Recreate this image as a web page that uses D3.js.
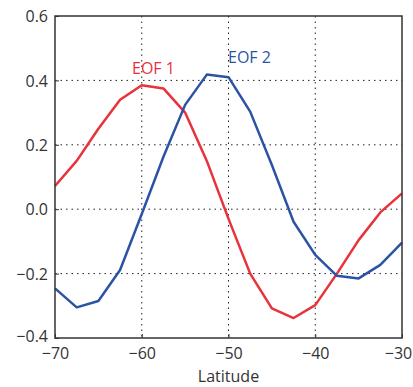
<!DOCTYPE html>
<html><head><meta charset="utf-8">
<script src="https://cdn.jsdelivr.net/npm/d3@7"></script>
<style>body{margin:0;background:#fff}</style>
</head><body>
<svg id="c" width="413" height="387"></svg>
<script>
const latitudes = [-70,-67.5,-65,-62.5,-60,-57.5,-55,-52.5,-50,-47.5,-45,-42.5,-40,-37.5,-35,-32.5,-30];
const eof1 = [0.072,0.15,0.25,0.34,0.385,0.375,0.30,0.15,-0.03,-0.20,-0.308,-0.338,-0.298,-0.20,-0.096,-0.01,0.049];
const eof2 = [-0.246,-0.305,-0.285,-0.189,-0.015,0.163,0.324,0.418,0.41,0.303,0.137,-0.039,-0.142,-0.207,-0.215,-0.173,-0.104];
const xTicks = [-70,-60,-50,-40,-30];
const yTicks = [-0.4,-0.2,0,0.2,0.4,0.6];
const seriesNames = ["EOF 1","EOF 2"];

const svg = d3.select("#c");
const L=55,R=402,T=16,B=338;
const x = d3.scaleLinear().domain([-70,-30]).range([L,R]);
const y = d3.scaleLinear().domain([-0.4,0.6]).range([B,T]);
const font = "'Open Sans', 'DejaVu Sans', sans-serif";

// grid
const g = svg.append("g");
g.selectAll(".gx").data(xTicks.slice(1,-1)).enter().append("line")
 .attr("x1",d=>x(d)).attr("x2",d=>x(d)).attr("y1",T).attr("y2",B)
 .attr("stroke","#222").attr("stroke-width",1).attr("stroke-dasharray","1.5,4");
g.selectAll(".gy").data(yTicks.slice(1,-1)).enter().append("line")
 .attr("y1",d=>y(d)).attr("y2",d=>y(d)).attr("x1",L).attr("x2",R)
 .attr("stroke","#222").attr("stroke-width",1).attr("stroke-dasharray","1.5,4");

// lines
const line = d3.line().x((d,i)=>x(latitudes[i])).y(d=>y(d));
svg.append("path").datum(eof1).attr("d",line).attr("fill","none")
 .attr("stroke","#e8323c").attr("stroke-width",2.5).attr("stroke-linejoin","round");
svg.append("path").datum(eof2).attr("d",line).attr("fill","none")
 .attr("stroke","#2c53a3").attr("stroke-width",2.5).attr("stroke-linejoin","round");

// axes
const xAxis = d3.axisBottom(x).tickValues(xTicks).tickSize(-4).tickPadding(10)
 .tickFormat(d=>String(d).replace("-","\u2212"));
const yAxis = d3.axisLeft(y).tickValues(yTicks).tickSize(-4).tickPadding(7)
 .tickFormat(d=>d3.format(".1f")(d).replace("-","\u2212"));
const ax = svg.append("g").attr("transform",`translate(0,${B})`).call(xAxis);
const ay = svg.append("g").attr("transform",`translate(${L},0)`).call(yAxis);
[ax,ay].forEach(a=>{
  a.select(".domain").remove();
  a.selectAll("line").attr("stroke","#333");
  a.selectAll("text").attr("font-family",font).attr("font-size",16).attr("fill","#333");
});
ay.selectAll("text").attr("dy","0.35em");
ay.selectAll("text").filter(d=>d===-0.4).attr("dy","0.2em");
ax.selectAll("text").filter(d=>d===-30).attr("dx",-4);
// frame
svg.append("rect").attr("x",L).attr("y",T).attr("width",R-L).attr("height",B-T)
 .attr("fill","none").attr("stroke","#333").attr("stroke-width",1.5);

svg.append("text").attr("x",(L+R)/2).attr("y",382).attr("text-anchor","middle")
 .attr("font-family",font).attr("font-size",16).attr("fill","#333").text("Latitude");

svg.append("text").attr("x",132).attr("y",74).attr("font-family",font).attr("font-size",16)
 .attr("fill","#e8323c").text(seriesNames[0]);
svg.append("text").attr("x",228).attr("y",63).attr("font-family",font).attr("font-size",16)
 .attr("fill","#2c53a3").text(seriesNames[1]);
</script>
</body></html>
